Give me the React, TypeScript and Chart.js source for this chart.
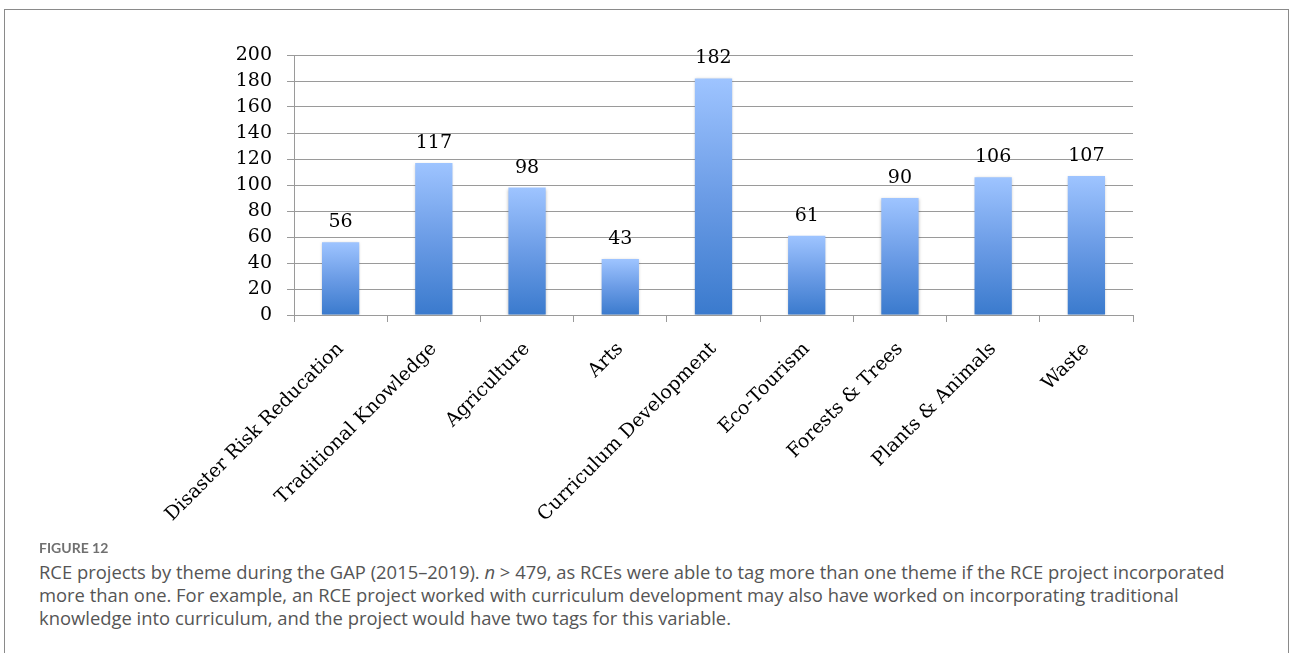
import React, { useEffect, useRef } from "react";
import { Chart, registerables } from "chart.js";

Chart.register(...registerables);

const categories = [
  "Disaster Risk Reducation",
  "Traditional Knowledge",
  "Agriculture",
  "Arts",
  "Curriculum Development",
  "Eco-Tourism",
  "Forests & Trees",
  "Plants & Animals",
  "Waste",
];
const values = [56, 117, 98, 43, 182, 61, 90, 106, 107];
const yMin = 0;
const yMax = 200;
const yStep = 20;

const figureLabel = "FIGURE 12";
const captionLines = [
  ["RCE projects by theme during the GAP (2015–2019). ", "n", " > 479, as RCEs were able to tag more than one theme if the RCE project incorporated"],
  ["more than one. For example, an RCE project worked with curriculum development may also have worked on incorporating traditional"],
  ["knowledge into curriculum, and the project would have two tags for this variable."],
];

const SERIF = "'DejaVu Serif', serif";

const valueLabelPlugin = {
  id: "valueLabels",
  afterDatasetsDraw(chart: any) {
    const ctx = chart.ctx;
    const meta = chart.getDatasetMeta(0);
    ctx.save();
    ctx.font = `19px ${SERIF}`;
    ctx.fillStyle = "#000";
    ctx.textAlign = "center";
    ctx.textBaseline = "alphabetic";
    meta.data.forEach((bar: any, i: number) => {
      ctx.fillText(String(values[i]), bar.x, bar.y - 15);
    });
    ctx.restore();
  },
};

const shadowPlugin = {
  id: "barShadow",
  beforeDatasetDraw(chart: any) {
    const ctx = chart.ctx;
    ctx.save();
    ctx.shadowColor = "rgba(0,0,0,0.25)";
    ctx.shadowBlur = 3;
    ctx.shadowOffsetX = 0;
    ctx.shadowOffsetY = 1;
  },
  afterDatasetDraw(chart: any) {
    chart.ctx.restore();
  },
};

export default function App() {
  const canvasRef = useRef<HTMLCanvasElement | null>(null);

  useEffect(() => {
    const canvas = canvasRef.current;
    if (!canvas) return;
    const chart = new Chart(canvas, {
      type: "bar",
      data: {
        labels: categories,
        datasets: [
          {
            data: values,
            barPercentage: 0.4,
            categoryPercentage: 1.0,
            backgroundColor: (c: any) => {
              const ch = c.chart;
              const area = ch.chartArea;
              if (!area || c.type !== "data") return "#6d9fe8";
              const y = ch.scales.y;
              const top = y.getPixelForValue(c.raw as number);
              const bottom = y.getPixelForValue(0);
              const g = ch.ctx.createLinearGradient(0, top, 0, bottom);
              g.addColorStop(0, "#9ec4ff");
              g.addColorStop(0.5, "#6b9ce6");
              g.addColorStop(1, "#3a7acd");
              return g;
            },
            borderWidth: 0,
          },
        ],
      },
      options: {
        responsive: false,
        animation: false,
        devicePixelRatio: 1,
        layout: { padding: { top: 55, right: 157, left: 0, bottom: 0 } },
        plugins: {
          legend: { display: false },
          tooltip: { enabled: false },
        },
        scales: {
          x: {
            offset: true,
            grid: {
              display: true,
              drawOnChartArea: false,
              drawTicks: true,
              tickLength: 7,
              color: "#9a9a9a",
              offset: true,
            },
            border: { display: true, color: "#9a9a9a", width: 1 },
            ticks: {
              autoSkip: false,
              maxRotation: 45,
              minRotation: 45,
              padding: 16,
              color: "#000",
              font: { family: SERIF, size: 19 },
            },
            afterFit: (s: any) => {
              s.height = 540 - 315;
            },
          },
          y: {
            min: yMin,
            max: yMax,
            grid: {
              color: "#9a9a9a",
              tickLength: 7,
              lineWidth: 1,
            },
            border: { display: true, color: "#9a9a9a", width: 1 },
            ticks: {
              stepSize: yStep,
              padding: 15,
              color: "#000",
              font: { family: SERIF, size: 19 },
            },
            afterFit: (s: any) => {
              s.width = 294;
            },
          },
        },
      },
      plugins: [shadowPlugin, valueLabelPlugin],
    });
    return () => chart.destroy();
  }, []);

  return (
    <div
      style={{
        position: "absolute",
        left: 0,
        top: 0,
        width: 1290,
        height: 653,
        overflow: "hidden",
        background: "#fff",
      }}
    >
      <div
        style={{
          position: "absolute",
          left: 4,
          top: 9,
          width: 1285,
          height: 700,
          border: "1.5px solid #8a8a8a",
          boxSizing: "border-box",
        }}
      />
      <canvas
        ref={canvasRef}
        width={1290}
        height={540}
        style={{ position: "absolute", left: 0, top: 0, width: 1290, height: 540 }}
      />
      <div
        style={{
          position: "absolute",
          left: 39,
          top: 539,
          fontFamily: "Lato, sans-serif",
          fontWeight: 700,
          fontSize: 14,
          color: "#707070",
          lineHeight: "18px",
          whiteSpace: "nowrap",
        }}
      >
        {figureLabel}
      </div>
      <div
        style={{
          position: "absolute",
          left: 39,
          top: 560,
          fontFamily: "'Open Sans', sans-serif",
          fontSize: 18.4,
          color: "#555",
          lineHeight: "23px",
          whiteSpace: "nowrap",
        }}
      >
        {captionLines.map((line, i) => (
          <div key={i}>
            {line.length === 3 ? (
              <>
                {line[0]}
                <i>{line[1]}</i>
                {line[2]}
              </>
            ) : (
              line[0]
            )}
          </div>
        ))}
      </div>
    </div>
  );
}
